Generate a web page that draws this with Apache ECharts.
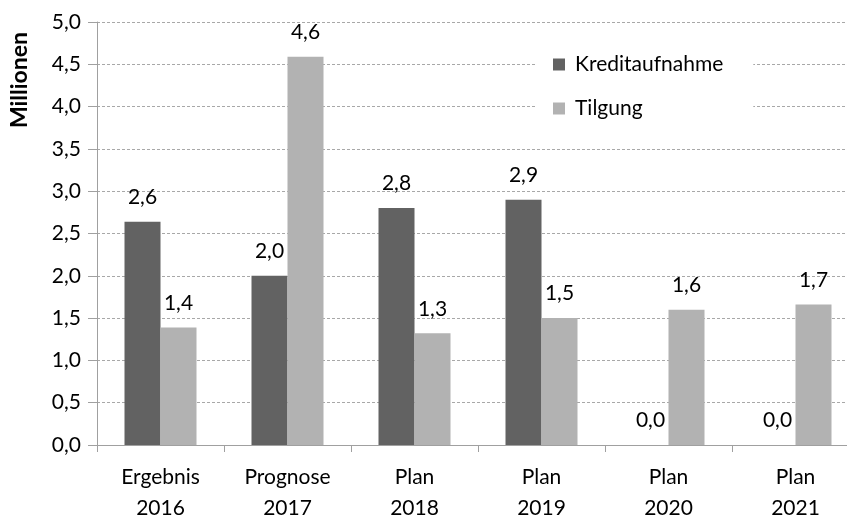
<!DOCTYPE html>
<html>
<head>
<meta charset="utf-8">
<script src="https://cdn.jsdelivr.net/npm/echarts@6/dist/echarts.min.js"></script>
<style>
html,body{margin:0;padding:0;background:#fff;}
#chart{width:847px;height:518px;}
</style>
</head>
<body>
<div id="chart"></div>
<script>
const categories = ['Ergebnis\n2016', 'Prognose\n2017', 'Plan\n2018', 'Plan\n2019', 'Plan\n2020', 'Plan\n2021'];
const kreditaufnahme = [2.64, 2.0, 2.8, 2.9, 0, 0];
const tilgung = [1.39, 4.59, 1.32, 1.5, 1.6, 1.66];
const seriesNames = ['Kreditaufnahme', 'Tilgung'];
const axisName = 'Millionen';

const FONT = 'Lato';
const FS = 21;
const fmt = v => (typeof v === 'object' ? v.value : v).toFixed(1).replace('.', ',');

const chart = echarts.init(document.getElementById('chart'), null, {renderer: 'canvas'});
const labelCfg = {
  show: true, position: 'top', distance: 14,
  color: '#000', fontFamily: FONT, fontSize: FS,
  formatter: p => fmt(p.value)
};
chart.setOption({
  animation: false,
  backgroundColor: '#fff',
  grid: {left: 97, top: 22, width: 762, bottom: 73, containLabel: false, outerBoundsMode: 'none'},
  graphic: [{
    type: 'text', x: 20, y: 80, rotation: Math.PI / 2,
    style: {text: axisName, font: 'bold 23px ' + FONT, fill: '#000', textAlign: 'center', textVerticalAlign: 'middle'}
  }],
  legend: {
    orient: 'vertical', left: 537, top: 45,
    backgroundColor: '#fff', padding: [9, 30, 9, 16],
    itemWidth: 12, itemHeight: 12, itemGap: 23, icon: 'rect',
    textStyle: {fontFamily: FONT, fontSize: FS, color: '#000', padding: [0, 0, 0, 5]},
    data: seriesNames
  },
  xAxis: {
    type: 'category', data: categories,
    axisLine: {lineStyle: {color: '#a0a0a0', width: 1}},
    axisTick: {show: true, length: 7, lineStyle: {color: '#a0a0a0'}},
    axisLabel: {color: '#000', fontFamily: FONT, fontSize: FS, lineHeight: 31, margin: 17, interval: 0}
  },
  yAxis: {
    type: 'value', min: 0, max: 5, interval: 0.5,
    axisLine: {show: true, lineStyle: {color: '#a0a0a0', width: 1}},
    axisTick: {show: true, length: 9, lineStyle: {color: '#a0a0a0'}},
    axisLabel: {color: '#000', fontFamily: FONT, fontSize: FS, margin: 16, formatter: v => v.toFixed(1).replace('.', ',')},
    splitLine: {show: true, lineStyle: {color: '#a8a8a8', type: [3, 2], width: 1}}
  },
  series: [
    {name: seriesNames[0], type: 'bar', data: kreditaufnahme, barWidth: 36, barGap: '0%',
     itemStyle: {color: '#626262'}, label: labelCfg},
    {name: seriesNames[1], type: 'bar', data: tilgung, barWidth: 36, barGap: '0%',
     itemStyle: {color: '#b2b2b2'}, label: labelCfg}
  ]
});
</script>
</body>
</html>
